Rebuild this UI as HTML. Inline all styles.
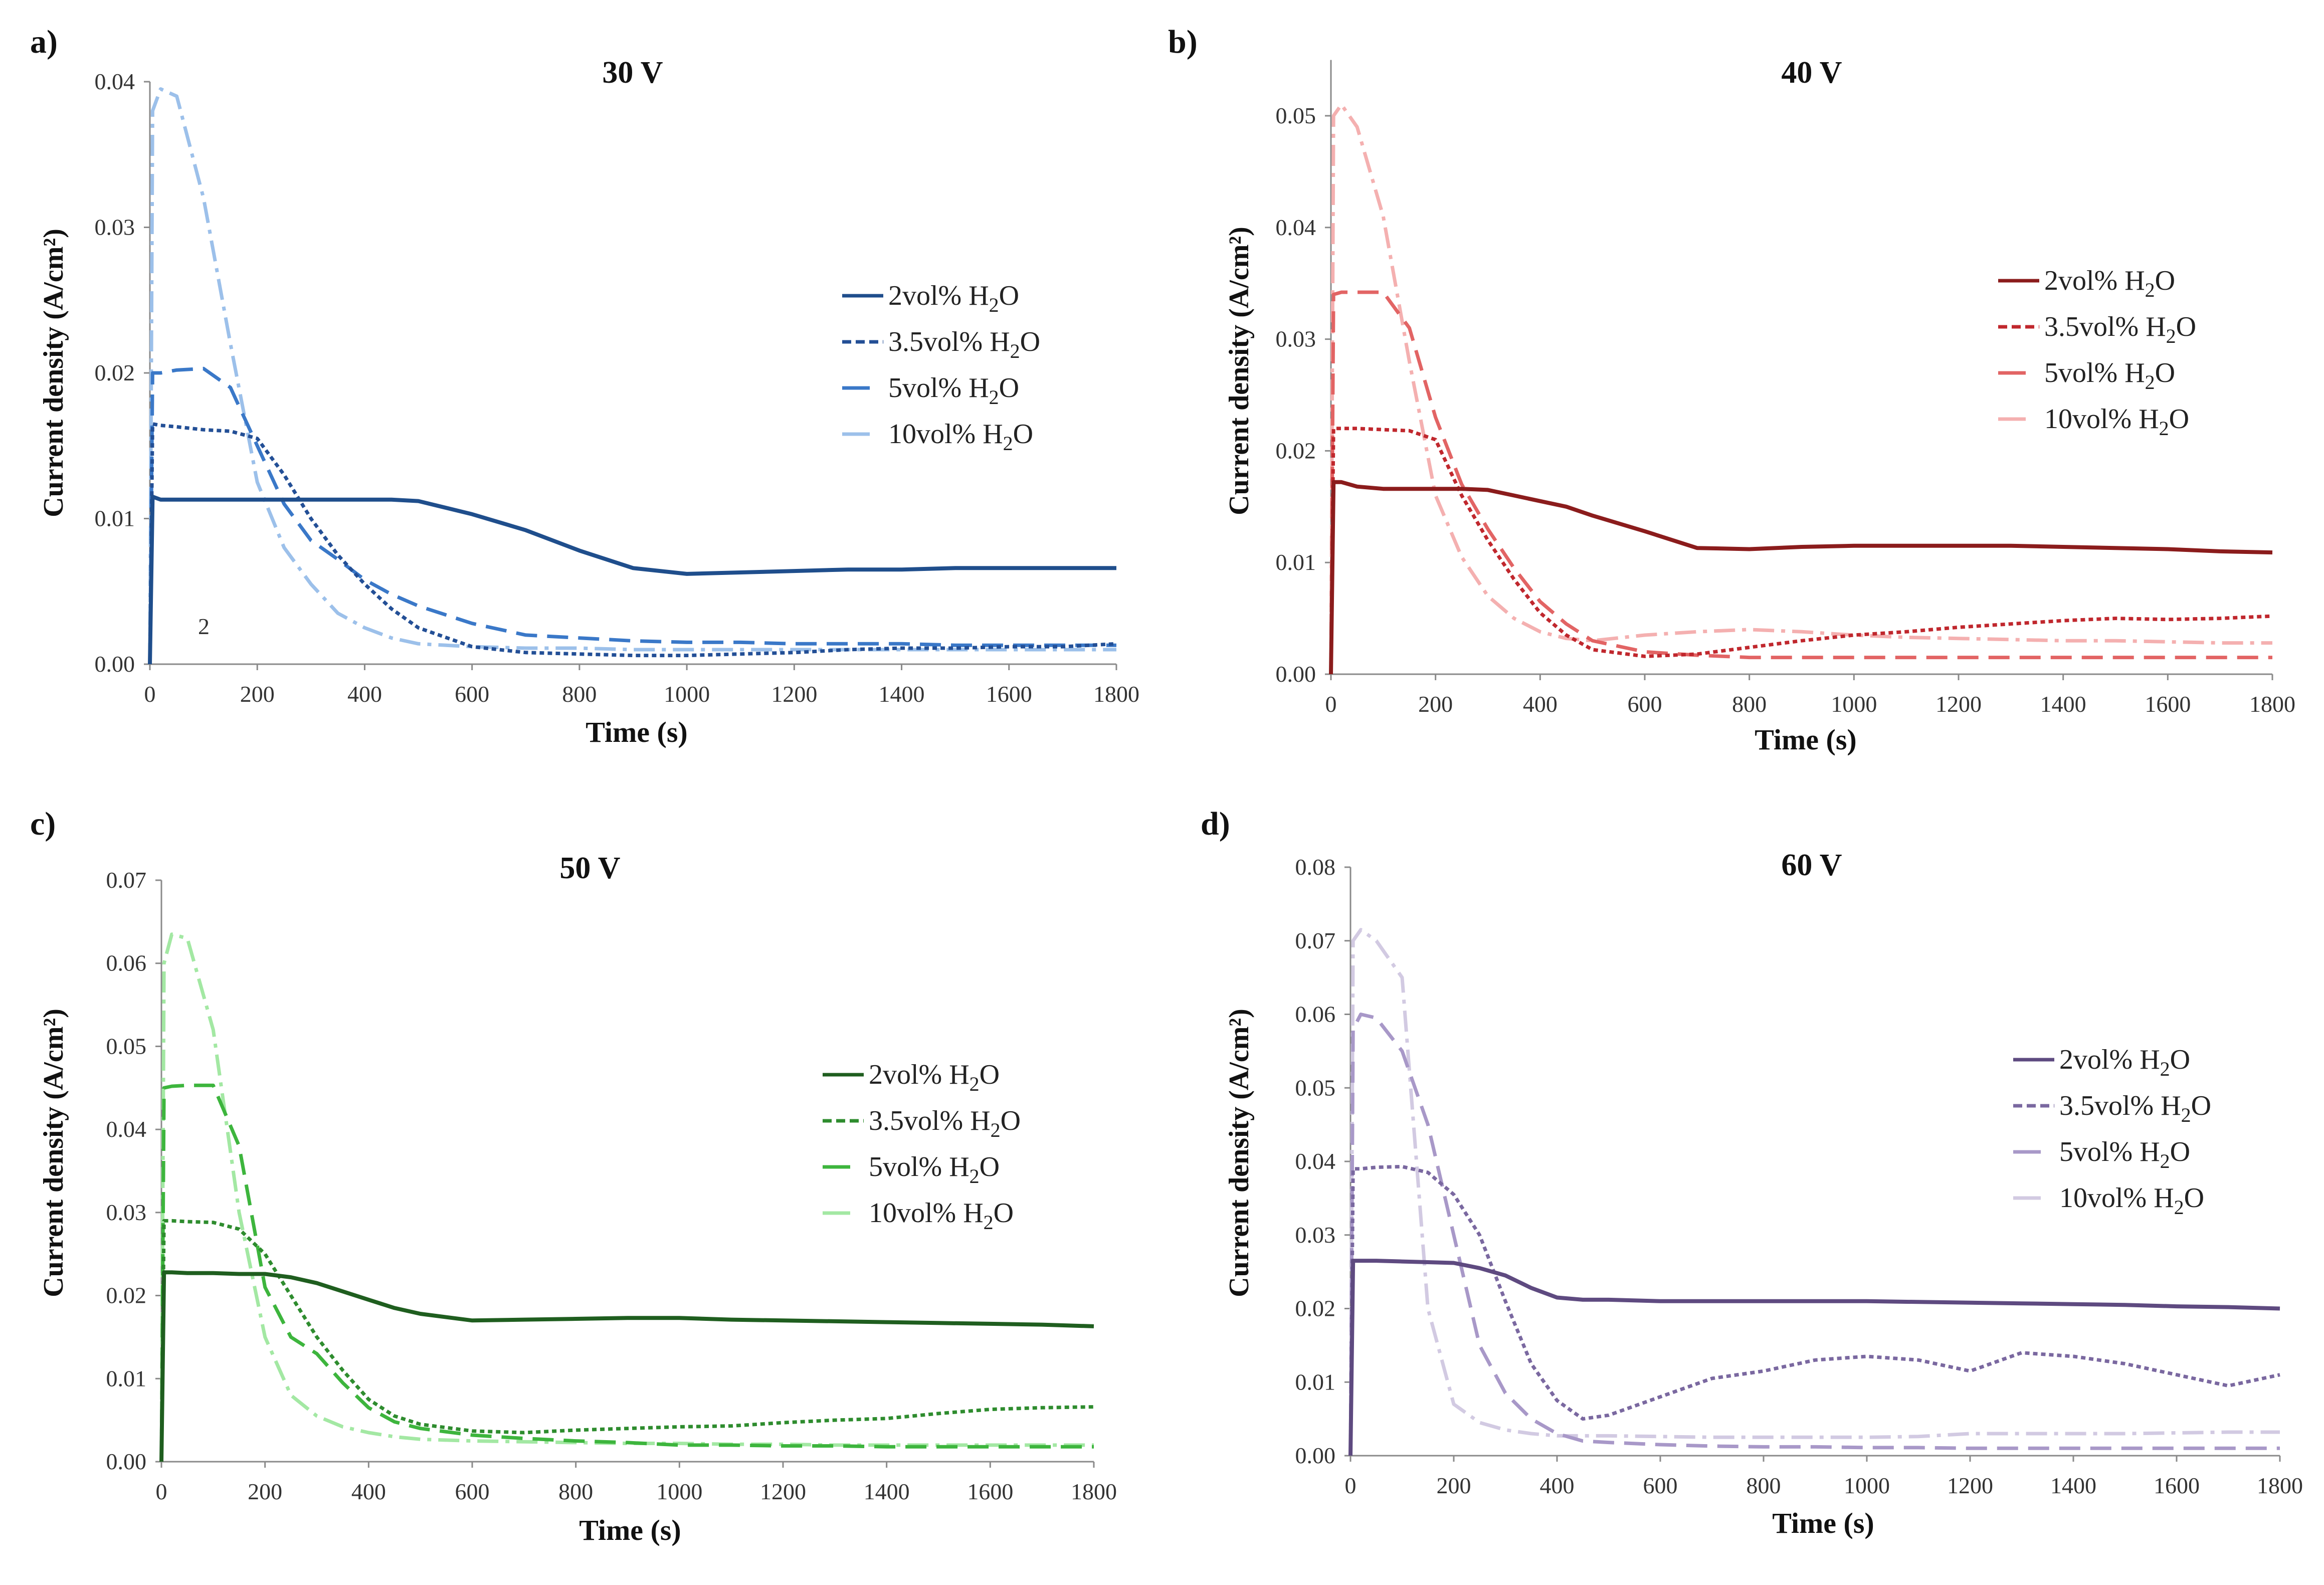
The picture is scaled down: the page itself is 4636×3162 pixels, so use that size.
<!DOCTYPE html>
<html><head><meta charset="utf-8"><style>
html,body{margin:0;padding:0;background:#fff;}
svg{display:block;font-family:"Liberation Serif",serif;}
</style></head><body>
<svg id="chart" width="4636" height="3162" viewBox="0 0 4636 3162" xmlns="http://www.w3.org/2000/svg"></svg>
<script>
const times=[0,5,20,50,100,150,200,250,300,350,400,450,500,600,700,800,900,1000,1100,1200,1300,1400,1500,1600,1700,1800];
const xTicks=[0,200,400,600,800,1000,1200,1400,1600,1800];
const seriesNames=["2vol% H","3.5vol% H","5vol% H","10vol% H"];
// Panel a (30 V)
const a2=[0,0.0115,0.0113,0.0113,0.0113,0.0113,0.0113,0.0113,0.0113,0.0113,0.0113,0.0113,0.0112,0.0103,0.0092,0.0078,0.0066,0.0062,0.0063,0.0064,0.0065,0.0065,0.0066,0.0066,0.0066,0.0066];
const a35=[0,0.0165,0.0164,0.0163,0.0161,0.016,0.0155,0.013,0.01,0.0075,0.0055,0.0038,0.0025,0.0012,0.0008,0.0007,0.0006,0.0006,0.0007,0.0008,0.001,0.0011,0.0011,0.0012,0.0012,0.0014];
const a5=[0,0.02,0.02,0.0202,0.0203,0.019,0.015,0.011,0.0085,0.0072,0.0058,0.0048,0.004,0.0028,0.002,0.0018,0.0016,0.0015,0.0015,0.0014,0.0014,0.0014,0.0013,0.0013,0.0013,0.0013];
const a10=[0,0.038,0.0395,0.039,0.032,0.022,0.0125,0.008,0.0055,0.0035,0.0025,0.0018,0.0014,0.0012,0.0011,0.0011,0.001,0.001,0.001,0.001,0.001,0.001,0.001,0.001,0.001,0.001];
// Panel b (40 V)
const b2=[0,0.0172,0.0172,0.0168,0.0166,0.0166,0.0166,0.0166,0.0165,0.016,0.0155,0.015,0.0142,0.0128,0.0113,0.0112,0.0114,0.0115,0.0115,0.0115,0.0115,0.0114,0.0113,0.0112,0.011,0.0109];
const b35=[0,0.022,0.022,0.022,0.0219,0.0218,0.021,0.016,0.012,0.0085,0.0055,0.0035,0.0022,0.0016,0.0018,0.0024,0.003,0.0035,0.0038,0.0042,0.0045,0.0048,0.005,0.0049,0.005,0.0052];
const b5=[0,0.034,0.0342,0.0342,0.0342,0.031,0.023,0.017,0.013,0.0095,0.0065,0.0045,0.003,0.002,0.0017,0.0015,0.0015,0.0015,0.0015,0.0015,0.0015,0.0015,0.0015,0.0015,0.0015,0.0015];
const b10=[0,0.05,0.051,0.049,0.041,0.028,0.016,0.0105,0.007,0.005,0.0038,0.0032,0.003,0.0035,0.0038,0.004,0.0038,0.0035,0.0033,0.0032,0.0031,0.003,0.003,0.0029,0.0028,0.0028];
// Panel c (50 V)
const c2=[0,0.0228,0.0228,0.0227,0.0227,0.0226,0.0226,0.0222,0.0215,0.0205,0.0195,0.0185,0.0178,0.017,0.0171,0.0172,0.0173,0.0173,0.0171,0.017,0.0169,0.0168,0.0167,0.0166,0.0165,0.0163];
const c35=[0,0.029,0.029,0.0289,0.0288,0.028,0.025,0.02,0.015,0.011,0.0075,0.0055,0.0045,0.0037,0.0035,0.0038,0.004,0.0042,0.0043,0.0047,0.005,0.0052,0.0058,0.0063,0.0065,0.0066];
const c5=[0,0.045,0.0452,0.0453,0.0453,0.038,0.021,0.015,0.013,0.0095,0.0065,0.0048,0.004,0.0032,0.0028,0.0025,0.0023,0.002,0.002,0.0019,0.0019,0.0018,0.0018,0.0018,0.0018,0.0018];
const c10=[0,0.06,0.0635,0.063,0.052,0.03,0.015,0.008,0.0055,0.0042,0.0035,0.003,0.0027,0.0025,0.0024,0.0023,0.0022,0.0022,0.0021,0.0021,0.002,0.002,0.002,0.002,0.002,0.002];
// Panel d (60 V)
const d2=[0,0.0265,0.0265,0.0265,0.0264,0.0263,0.0262,0.0255,0.0245,0.0228,0.0215,0.0212,0.0212,0.021,0.021,0.021,0.021,0.021,0.0209,0.0208,0.0207,0.0206,0.0205,0.0203,0.0202,0.02];
const d35=[0,0.039,0.039,0.0392,0.0393,0.0385,0.0355,0.03,0.021,0.0125,0.0075,0.005,0.0055,0.008,0.0105,0.0115,0.013,0.0135,0.013,0.0115,0.014,0.0135,0.0125,0.011,0.0095,0.011];
const d5=[0,0.058,0.06,0.0595,0.055,0.045,0.03,0.015,0.0085,0.005,0.003,0.002,0.0018,0.0015,0.0013,0.0012,0.0012,0.0011,0.0011,0.001,0.001,0.001,0.001,0.001,0.001,0.001];
const d10=[0,0.07,0.0715,0.07,0.065,0.02,0.007,0.0045,0.0035,0.003,0.0027,0.0027,0.0027,0.0026,0.0025,0.0025,0.0025,0.0025,0.0026,0.003,0.003,0.003,0.003,0.0031,0.0032,0.0032];

const NS="http://www.w3.org/2000/svg";
const svg=document.getElementById('chart');
function mk(tag,attrs,parent){const e=document.createElementNS(NS,tag);for(const k in attrs)e.setAttribute(k,attrs[k]);(parent||svg).appendChild(e);return e;}
const dashes=["none","9 7","42 20","42 14 8 14"];
const panels=[
 {id:"a",letter:"a)",title:"30 V",x0:299,x1:2227,y0:1325,yTickTop:163,tickMax:0.04,axisMax:0.04,data:[a2,a35,a5,a10],colors:["#1f4e8c","#234f96","#3a78c8","#9cc0ea"],lx:1680,ly:590,lettX:60,lettY:105,titleX:1262,titleY:165,ytX:125,yMid:744,timeX:1270,timeY:1480},
 {id:"b",letter:"b)",title:"40 V",x0:2655,x1:4533,y0:1345,yTickTop:231,tickMax:0.05,axisMax:0.055,data:[b2,b35,b5,b10],colors:["#8b1c1c","#c0272d","#e26464","#f4b0b0"],lx:3986,ly:560,lettX:2330,lettY:105,titleX:3614,titleY:165,ytX:2490,yMid:740,timeX:3602,timeY:1495},
 {id:"c",letter:"c)",title:"50 V",x0:322,x1:2182,y0:2916,yTickTop:1756,tickMax:0.07,axisMax:0.07,data:[c2,c35,c5,c10],colors:["#1f5e1f","#2e8c2e","#3db53d","#a3e8a3"],lx:1641,ly:2144,lettX:60,lettY:1665,titleX:1177,titleY:1752,ytX:125,yMid:2300,timeX:1257,timeY:3072},
 {id:"d",letter:"d)",title:"60 V",x0:2694,x1:4548,y0:2904,yTickTop:1730,tickMax:0.08,axisMax:0.08,data:[d2,d35,d5,d10],colors:["#5e4a80","#7a68a0","#a898c8","#d2cae2"],lx:4016,ly:2114,lettX:2395,lettY:1665,titleX:3614,titleY:1746,ytX:2490,yMid:2300,timeX:3637,timeY:3058}
];
panels.forEach(p=>{
 const g=mk('g',{});
 
 
 const ppu=(p.y0-p.yTickTop)/p.tickMax;
 const X=t=>p.x0+(p.x1-p.x0)*t/1800;
 const Y=v=>p.y0-v*ppu;
 const yTop=Y(p.axisMax);
 const ax=mk('path',{d:`M${p.x0},${yTop} L${p.x0},${p.y0} L${p.x1},${p.y0}`,stroke:"#8a8a8a","stroke-width":3,fill:"none"},g);
 
 
 for(let v=0;v<=p.tickMax+1e-9;v+=0.01){
  mk('line',{x1:p.x0-12,x2:p.x0,y1:Y(v),y2:Y(v),stroke:"#8a8a8a","stroke-width":3},g);
  const t=mk('text',{x:p.x0-30,y:Y(v)+15,"text-anchor":"end","font-size":46,fill:"#333"},g);
  t.textContent=v.toFixed(2);
  
  
 }
 xTicks.forEach(tv=>{
  mk('line',{x1:X(tv),x2:X(tv),y1:p.y0,y2:p.y0+12,stroke:"#8a8a8a","stroke-width":3},g);
  const t=mk('text',{x:X(tv),y:p.y0+75,"text-anchor":"middle","font-size":46,fill:"#333"},g);
  t.textContent=tv;
  
  
 });
 for(let s=3;s>=0;s--){
  const vals=p.data[s];
  const d=vals.map((v,i)=>(i?'L':'M')+X(times[i]).toFixed(1)+','+Y(v).toFixed(1)).join(' ');
  const path=mk('path',{d:d,fill:"none",stroke:p.colors[s],"stroke-width":s==0?8:7,"stroke-dasharray":dashes[s],"stroke-linejoin":"round"},g);
  
  
 }
 for(let s=0;s<4;s++){
  const yy=p.ly+s*92;
  const ll=mk('line',{x1:p.lx,x2:p.lx+82,y1:yy,y2:yy,stroke:p.colors[s],"stroke-width":7,"stroke-dasharray":s==0?"none":(s==1?"18 9":"55 30")},g);
  
  
  const t=mk('text',{x:p.lx+92,y:yy+18,"font-size":56,fill:"#222"},g);
  
  
  t.appendChild(document.createTextNode(seriesNames[s]));
  const sub=mk('tspan',{"font-size":40,dy:14},t);sub.textContent="2";
  const o=mk('tspan',{dy:-14},t);o.textContent="O";
 }
 const tt=mk('text',{x:p.titleX,y:p.titleY,"text-anchor":"middle","font-size":62,"font-weight":"bold",fill:"#111"},g);
 tt.textContent=p.title;
 
 
 const lt=mk('text',{x:p.lettX,y:p.lettY,"font-size":66,"font-weight":"bold",fill:"#111"},g);
 lt.textContent=p.letter;
 
 
 const xt=mk('text',{x:p.timeX,y:p.timeY,"text-anchor":"middle","font-size":58,"font-weight":"bold",fill:"#111"},g);
 xt.textContent="Time (s)";
 
 
 const yt=mk('text',{x:p.ytX,y:p.yMid,"text-anchor":"middle","font-size":56,"font-weight":"bold",fill:"#111",transform:`rotate(-90 ${p.ytX} ${p.yMid})`},g);
 yt.textContent="Current density (A/cm²)";
 
 
});
const two=mk('text',{x:395,y:1265,"font-size":46,fill:"#333"});
two.textContent="2";


</script>
</body></html>
